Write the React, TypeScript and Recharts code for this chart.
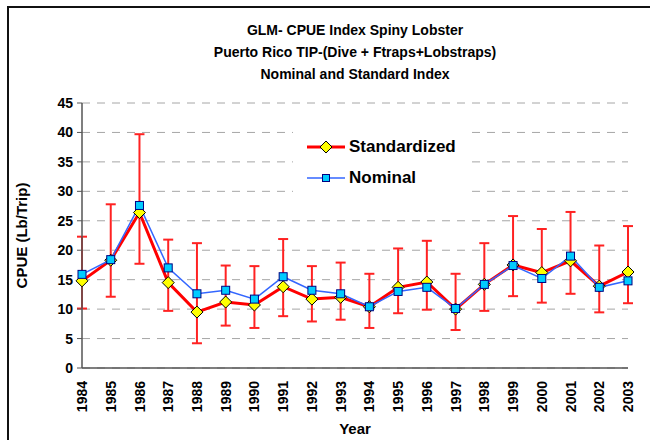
import React from 'react';
import { LineChart, Line, XAxis, YAxis, CartesianGrid, ErrorBar, Legend } from 'recharts';

const years = ['1984','1985','1986','1987','1988','1989','1990','1991','1992','1993','1994','1995','1996','1997','1998','1999','2000','2001','2002','2003'];
const standardized = [14.8, 18.3, 26.4, 14.5, 9.5, 11.2, 10.7, 13.8, 11.7, 12.0, 10.4, 13.7, 14.6, 10.0, 14.2, 17.5, 16.2, 18.2, 13.9, 16.3];
const nominal = [15.9, 18.4, 27.6, 17.0, 12.6, 13.2, 11.7, 15.5, 13.2, 12.6, 10.4, 13.0, 13.7, 10.1, 14.2, 17.4, 15.2, 19.0, 13.7, 14.8];
const upperCI = [22.3, 27.8, 39.7, 21.8, 21.2, 17.4, 17.3, 21.9, 17.3, 17.9, 16.0, 20.3, 21.6, 16.0, 21.2, 25.8, 23.6, 26.5, 20.8, 24.1];
const lowerCI = [10.1, 12.1, 17.7, 9.7, 4.2, 7.2, 6.8, 8.8, 7.9, 8.2, 6.8, 9.3, 9.9, 6.45, 9.7, 12.2, 11.1, 12.6, 9.45, 11.0];
const yTicks = [0, 5, 10, 15, 20, 25, 30, 35, 40, 45];
const titleLines = ['GLM- CPUE Index Spiny Lobster', 'Puerto Rico TIP-(Dive + Ftraps+Lobstraps)', 'Nominal and Standard Index'];
const legendOrder = ['std', 'nom'];

const data = years.map((year, i) => ({
  year,
  idx: i + 0.5,
  std: standardized[i],
  nom: nominal[i],
  err: [standardized[i] - lowerCI[i], upperCI[i] - standardized[i]],
}));
const boundaryTicks = [...years.map((_, i) => i), years.length];

const FONT = '"Liberation Sans", Arial, sans-serif';

const diamondPath = (cx: number, cy: number, r: number) =>
  `M${cx},${cy - r}L${cx + r},${cy}L${cx},${cy + r}L${cx - r},${cy}Z`;

const DiamondDot = (props: any) => {
  const { cx, cy, index } = props;
  if (cx == null || cy == null) return <g key={`dd-${index}`} />;
  return <path key={`dd-${index}`} d={diamondPath(cx, cy, 6)} fill="#FFFF00" stroke="#000" strokeWidth={1} />;
};

const SquareDot = (props: any) => {
  const { cx, cy, index } = props;
  if (cx == null || cy == null) return <g key={`sd-${index}`} />;
  return <rect key={`sd-${index}`} x={cx - 4} y={cy - 4} width={8} height={8} fill="#00CCFF" stroke="#000080" strokeWidth={1} />;
};

const YearTick = (props: any) => {
  const { x, y, payload } = props;
  return (
    <g transform={`translate(${x},${y})`}>
      <text transform="rotate(-90)" x={-4} y={0} dy="0.36em" textAnchor="end" fontSize={14} fontWeight="bold" fontFamily={FONT} fill="#000">
        {payload.value}
      </text>
    </g>
  );
};

const YLabel = (props: any) => {
  const { viewBox } = props;
  const x = viewBox.x + 22;
  const y = viewBox.y + viewBox.height / 2;
  return (
    <text transform={`rotate(-90, ${x}, ${y})`} x={x} y={y} dy="0.36em" textAnchor="middle" fontSize={15} fontWeight="bold" fontFamily={FONT} fill="#000">
      CPUE (Lb/Trip)
    </text>
  );
};

const XLabel = (props: any) => {
  const { viewBox } = props;
  const x = viewBox.x + viewBox.width / 2;
  const y = viewBox.y + viewBox.height;
  return (
    <text x={x} y={y} dy="0.36em" textAnchor="middle" fontSize={15} fontWeight="bold" fontFamily={FONT} fill="#000">
      Year
    </text>
  );
};

const renderLegend = (props: any) => {
  const payload = [...(props.payload || [])].sort(
    (a: any, b: any) => legendOrder.indexOf(a.dataKey) - legendOrder.indexOf(b.dataKey)
  );
  return (
    <div style={{ paddingTop: 6, paddingLeft: 14 }}>
      {payload.map((entry: any, i: number) => {
        const isStd = entry.dataKey === 'std';
        return (
          <div key={`leg-${i}`} style={{ display: 'flex', alignItems: 'center', height: 31 }}>
            <svg width={38} height={16} style={{ display: 'block' }}>
              {isStd ? (
                <>
                  <line x1={0} y1={8} x2={38} y2={8} stroke="#FF0000" strokeWidth={3} />
                  <path d={diamondPath(19, 8, 6)} fill="#FFFF00" stroke="#000" strokeWidth={1} />
                </>
              ) : (
                <>
                  <line x1={0} y1={8} x2={38} y2={8} stroke="#3366FF" strokeWidth={1.5} />
                  <rect x={15.5} y={4.5} width={7} height={7} fill="#00CCFF" stroke="#000080" strokeWidth={1} />
                </>
              )}
            </svg>
            <span style={{ marginLeft: 4, fontFamily: FONT, fontWeight: 'bold', fontSize: 17, color: '#000' }}>{entry.value}</span>
          </div>
        );
      })}
    </div>
  );
};

export default function App() {
  return (
    <div style={{ position: 'absolute', left: 0, top: 0, width: 650, height: 440, background: '#fff', fontFamily: FONT }}>
      <div style={{ position: 'absolute', left: 7, top: 6, width: 643, height: 434, borderTop: '2px solid #111', borderLeft: '2px solid #111', boxSizing: 'border-box' }} />
      <div style={{ position: 'absolute', left: 82, top: 19, width: 546, textAlign: 'center', fontSize: 14, fontWeight: 'bold', lineHeight: '22px', color: '#000' }}>
        {titleLines.map((t, i) => <div key={i}>{t}</div>)}
      </div>
      <LineChart width={650} height={440} data={data} margin={{ top: 103, right: 22, bottom: 11, left: 0 }}>
        <CartesianGrid horizontal vertical={false} stroke="#A6A6A6" strokeDasharray="8 7" xAxisId="c" />
        <XAxis
          xAxisId="b"
          type="number"
          dataKey="idx"
          domain={[0, years.length]}
          ticks={boundaryTicks}
          tick={false}
          tickSize={5}
          height={1}
          allowDataOverflow
          axisLine={{ stroke: '#555', strokeWidth: 1.5 }}
          tickLine={{ stroke: '#555', strokeWidth: 1 }}
        />
        <XAxis
          xAxisId="c"
          dataKey="year"
          type="category"
          interval={0}
          tickLine={false}
          axisLine={false}
          height={60}
          tick={<YearTick />}
          label={{ content: XLabel }}
        />
        <YAxis
          domain={[0, 45]}
          ticks={yTicks}
          interval={0}
          width={82}
          tickSize={5}
          tickMargin={4}
          axisLine={{ stroke: '#555', strokeWidth: 1.5 }}
          tickLine={{ stroke: '#555', strokeWidth: 1 }}
          tick={{ fontSize: 14, fontWeight: 'bold', fill: '#000', fontFamily: FONT }}
          label={{ content: YLabel }}
        />
        <Legend
          layout="horizontal"
          verticalAlign="middle"
          align="center"
          content={renderLegend}
          wrapperStyle={{ position: 'absolute', left: 293, top: 125, width: 172, height: 72, background: '#fff', margin: 0 }}
        />
        <Line
          xAxisId="c"
          name="Standardized"
          dataKey="std"
          stroke="#FF0000"
          strokeWidth={3}
          dot={DiamondDot}
          activeDot={false}
          isAnimationActive={false}
        >
          <ErrorBar dataKey="err" direction="y" width={5} stroke="#FF2222" strokeWidth={2} isAnimationActive={false} />
        </Line>
        <Line
          xAxisId="c"
          name="Nominal"
          dataKey="nom"
          stroke="#3366FF"
          strokeWidth={1.5}
          dot={SquareDot}
          activeDot={false}
          isAnimationActive={false}
        />
      </LineChart>
    </div>
  );
}
